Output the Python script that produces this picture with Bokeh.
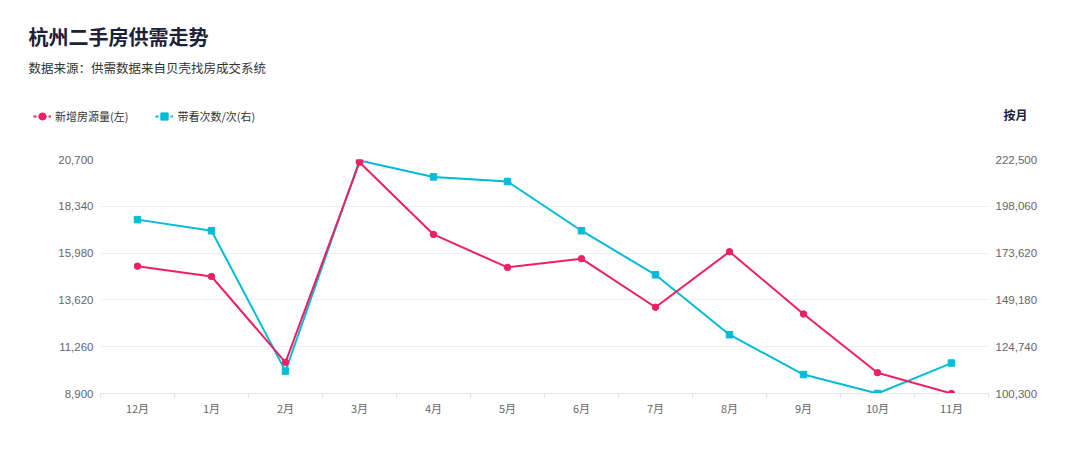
from bokeh.plotting import figure
from bokeh.layouts import column
from bokeh.models import (Range1d, LinearAxis, FixedTicker, NumeralTickFormatter,
                          Label, Legend, LegendItem, ColumnDataSource)
from bokeh.embed import file_html
from bokeh.resources import INLINE

# ---- data ----
months = ["12月", "1月", "2月", "3月", "4月", "5月", "6月", "7月", "8月", "9月", "10月", "11月"]
new_listings = [15320, 14800, 10470, 20560, 16920, 15260, 15700, 13250, 16050, 12910, 9950, 8900]
viewings = [191100, 185300, 112000, 222000, 213400, 211000, 185300, 162300, 131000, 110200, 100300, 116200]
left_ticks = [8900, 11260, 13620, 15980, 18340, 20700]
right_ticks = [100300, 124740, 149180, 173620, 198060, 222500]

title_text = "杭州二手房供需走势"
subtitle_text = "数据来源：供需数据来自贝壳找房成交系统"
series_names = ["新增房源量(左)", "带看次数/次(右)"]
period_text = "按月"

PINK = "#ee1f63"
CYAN = "#00bcd4"
CJK = "Noto Sans CJK SC"
NUM = "Liberation Sans"

W, H, HEAD = 1080, 449, 140

# ---------- header figure (title, subtitle, legend, period) ----------
head = figure(width=W, height=HEAD, output_backend="svg", toolbar_location=None,
              x_range=Range1d(0, W), y_range=Range1d(HEAD, 0),
              min_border=0, min_border_left=0, min_border_right=0,
              min_border_top=0, min_border_bottom=0,
              x_axis_location=None, y_axis_location=None)
head.frame_align = False
head.outline_line_color = None
head.grid.visible = False
head.border_fill_color = "white"

head.add_layout(Label(x=28, y=36, text=title_text,
                      text_font=CJK, text_font_size="20px", text_font_style="bold",
                      text_color="#1a2138", text_baseline="middle"))
head.add_layout(Label(x=28, y=67, text=subtitle_text,
                      text_font=CJK, text_font_size="12.5px", text_color="#333333",
                      text_baseline="middle"))
head.add_layout(Label(x=1003, y=114, text=period_text,
                      text_font=CJK, text_font_size="12px", text_font_style="bold",
                      text_color="#1a2138", text_baseline="middle"))

hidden = ColumnDataSource(dict(x=[float("nan")], y=[float("nan")]))
l1 = head.line("x", "y", source=hidden, color=PINK, line_width=2, line_dash="3 2")
m1 = head.scatter("x", "y", source=hidden, marker="circle", size=8, fill_color=PINK, line_color=PINK)
l2 = head.line("x", "y", source=hidden, color=CYAN, line_width=2, line_dash="3 2")
m2 = head.scatter("x", "y", source=hidden, marker="square", size=8, fill_color=CYAN, line_color=CYAN)
legend = Legend(items=[LegendItem(label=series_names[0], renderers=[l1, m1], index=0),
                       LegendItem(label=series_names[1], renderers=[l2, m2], index=0)],
                orientation="horizontal", location=(33, HEAD - 125),
                glyph_width=18, glyph_height=18, label_height=14, label_standoff=4,
                spacing=27, padding=0, margin=0,
                border_line_color=None, background_fill_alpha=0,
                label_text_font=CJK, label_text_font_size="11px", label_text_color="#333333")
head.add_layout(legend, "center")

# ---------- main chart ----------
xs = list(range(len(months)))
src = ColumnDataSource(dict(x=xs, left=new_listings, right=viewings))

p = figure(width=W, height=H - HEAD, output_backend="svg", toolbar_location=None,
           x_range=Range1d(-0.5, len(months) - 0.5),
           y_range=Range1d(left_ticks[0], left_ticks[-1]),
           min_border_left=100, min_border_right=92, min_border_top=159 - HEAD,
           min_border_bottom=56,
           background_fill_color="white", border_fill_color="white")
p.frame_align = False
p.outline_line_color = None
p.extra_y_ranges = {"right": Range1d(right_ticks[0], right_ticks[-1])}

# x axis
xa = p.xaxis[0]
xa.ticker = FixedTicker(ticks=xs, minor_ticks=[i - 0.5 for i in range(len(months) + 1)])
xa.major_label_overrides = {i: m for i, m in enumerate(months)}
xa.major_tick_line_color = None
xa.major_tick_in = 0
xa.major_tick_out = 0
xa.minor_tick_line_color = "#e0e0e0"
xa.minor_tick_in = 0
xa.minor_tick_out = 4
xa.axis_line_color = "#e6e6e6"
xa.major_label_text_font = CJK
xa.major_label_text_font_size = "11px"
xa.major_label_text_color = "#666666"
xa.major_label_standoff = 2

# left axis
ya = p.yaxis[0]
ya.ticker = FixedTicker(ticks=left_ticks)
ya.formatter = NumeralTickFormatter(format="0,0")
ya.axis_line_color = None
ya.major_tick_line_color = None
ya.minor_tick_line_color = None
ya.major_tick_in = 0
ya.major_tick_out = 0
ya.major_label_text_font = NUM
ya.major_label_text_font_size = "11.5px"
ya.major_label_text_color = "#666666"
ya.major_label_standoff = 7

# right axis
ra = LinearAxis(y_range_name="right", ticker=FixedTicker(ticks=right_ticks),
                formatter=NumeralTickFormatter(format="0,0"))
ra.axis_line_color = None
ra.major_tick_line_color = None
ra.minor_tick_line_color = None
ra.major_tick_in = 0
ra.major_tick_out = 0
ra.major_label_text_font = NUM
ra.major_label_text_font_size = "11.5px"
ra.major_label_text_color = "#666666"
ra.major_label_standoff = 7
p.add_layout(ra, "right")

# grids
p.xgrid.grid_line_color = None
p.ygrid.ticker = FixedTicker(ticks=left_ticks[1:-1])
p.ygrid.grid_line_color = "#eeeeee"
p.ygrid.grid_line_width = 1

# series
p.line("x", "right", source=src, y_range_name="right", color=CYAN, line_width=2)
p.scatter("x", "right", source=src, y_range_name="right", marker="square", size=6.5,
          fill_color=CYAN, line_color=CYAN)
p.line("x", "left", source=src, color=PINK, line_width=2)
p.scatter("x", "left", source=src, marker="circle", size=6.5, fill_color=PINK, line_color=PINK)

layout = column(head, p, spacing=0)
open("out.html", "w").write(file_html(layout, INLINE))
